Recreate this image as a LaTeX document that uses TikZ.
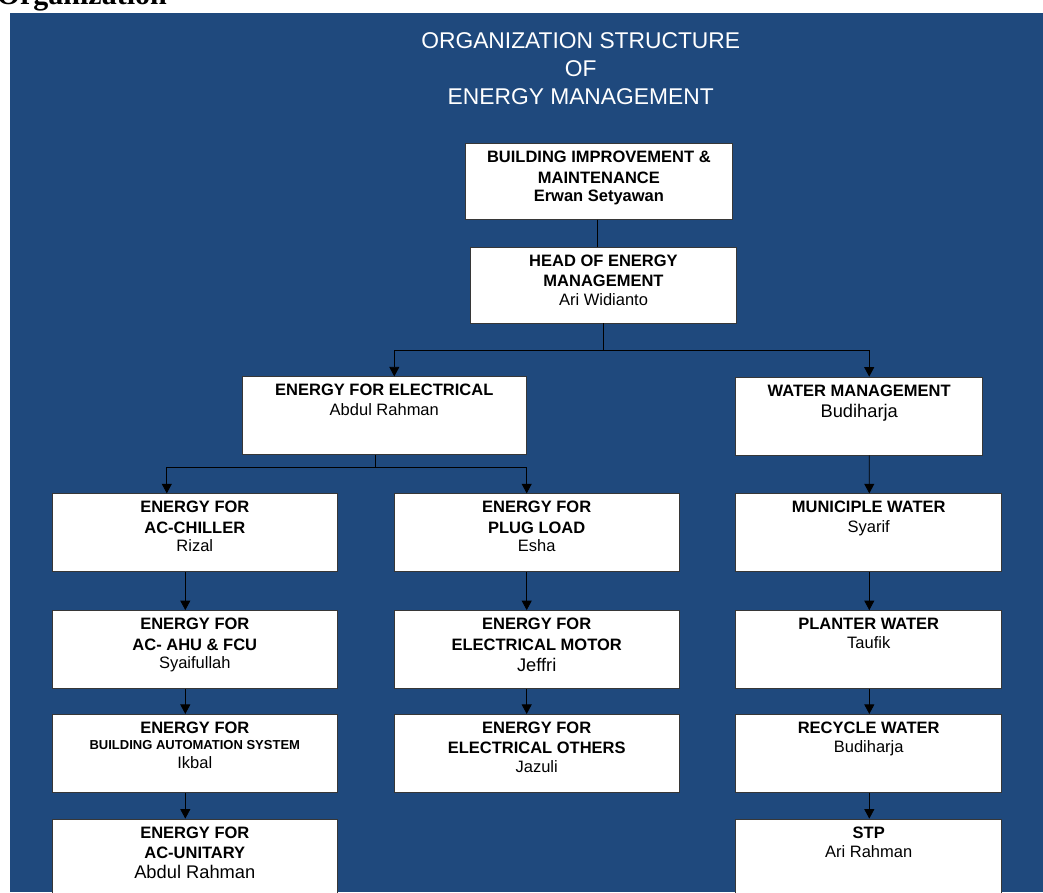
\documentclass[tikz,border=0pt]{standalone}
\usepackage{fontspec}
\setmainfont{Liberation Sans}
\newfontfamily\serifhead{Liberation Serif}
\usetikzlibrary{arrows.meta}
\definecolor{orgblue}{RGB}{31,73,125}
\definecolor{boxline}{RGB}{55,55,55}
\def\bigname#1{{\fontsize{18.3}{21}\selectfont #1}}
\def\smallcaps#1{{\fontsize{13}{15}\selectfont\bfseries #1}}

\tikzset{
	orgbox/.style={draw=boxline, fill=white, line width=0.8pt, minimum width=#1, minimum height=78pt, inner sep=0pt},
	orglbl/.style={anchor=north, align=center, inner sep=0pt, yshift=-7.8pt, font=\fontsize{16.5}{20.5}\selectfont},
	feed/.style={draw=black, line width=0.8pt, -{Triangle[width=10pt,length=9.5pt]}},
	link/.style={draw=black, line width=0.8pt},
}

\begin{document}
\begin{tikzpicture}[x=1pt, y=-1pt]
	%%%%% START %%%%%
	\useasboundingbox (0, 0) rectangle (1043, 892);
	\fill[orgblue] (10, 13) rectangle (1043, 892);
	
	\node[anchor=base east, inner sep=0pt, font=\serifhead\bfseries\fontsize{30}{36}\selectfont] (chapter) at (167, 4.7) {Organization};
	
	\node[anchor=north, align=center, inner sep=0pt, text=white, font=\fontsize{22.8}{28}\selectfont] (title) at (580.7, 32.5)
		{ORGANIZATION STRUCTURE\\OF\\ENERGY MANAGEMENT};
	
	%% top of the tree
	\node[orgbox=266.3pt, minimum height=76pt, label={[orglbl]north:{\bfseries BUILDING IMPROVEMENT \&\\[0.2pt] \bfseries MAINTENANCE\\[-1.8pt] \bfseries Erwan Setyawan}}] (bim) at (598.9, 181.3) {};
	\node[orgbox=265.6pt, minimum height=76pt, label={[orglbl]north:{\bfseries HEAD OF ENERGY\\ \bfseries MANAGEMENT\\[-1.5pt] Ari Widianto}}] (head) at (603.5, 285) {};
	
	\node[orgbox=284.7pt, label={[orglbl]north:{\bfseries ENERGY FOR ELECTRICAL\\[-1pt] Abdul Rahman}}] (elec) at (384.3, 415.8) {};
	\node[orgbox=247pt, label={[orglbl]north:{\bfseries WATER MANAGEMENT\\[0.5pt] \bigname{Budiharja}}}] (water) at (859.2, 416) {};
	
	%% electrical, left column
	\node[orgbox=284.3pt, label={[orglbl]north:{\bfseries ENERGY FOR\\ \bfseries AC-CHILLER\\[-2pt] Rizal}}] (chiller) at (194.8, 532.7) {};
	\node[orgbox=284.3pt, label={[orglbl]north:{\bfseries ENERGY FOR\\ \bfseries AC- AHU \& FCU\\[-2pt] Syaifullah}}] (ahu) at (194.8, 649.5) {};
	\node[orgbox=284.3pt, label={[orglbl]north:{\bfseries ENERGY FOR\\[-4pt] \smallcaps{BUILDING AUTOMATION SYSTEM}\\[-2pt] Ikbal}}] (bas) at (194.8, 753.3) {};
	\node[orgbox=284.3pt, label={[orglbl]north:{\bfseries ENERGY FOR\\ \bfseries AC-UNITARY\\[-1pt] \bigname{Abdul Rahman}}}] (unitary) at (194.8, 858) {};
	
	%% electrical, middle column
	\node[orgbox=284.7pt, label={[orglbl]north:{\bfseries ENERGY FOR\\ \bfseries PLUG LOAD\\[-2pt] Esha}}] (plug) at (536.7, 532.7) {};
	\node[orgbox=284.7pt, label={[orglbl]north:{\bfseries ENERGY FOR\\ \bfseries ELECTRICAL MOTOR\\[0.5pt] \bigname{Jeffri}}}] (motor) at (536.7, 649.5) {};
	\node[orgbox=284.7pt, label={[orglbl]north:{\bfseries ENERGY FOR\\ \bfseries ELECTRICAL OTHERS\\[-2pt] Jazuli}}] (others) at (536.7, 753.3) {};
	
	%% water column
	\node[orgbox=266pt, label={[orglbl]north:{\bfseries MUNICIPLE WATER\\[-1pt] Syarif}}] (municiple) at (868.7, 532.7) {};
	\node[orgbox=266pt, label={[orglbl]north:{\bfseries PLANTER WATER\\[-1.5pt] Taufik}}] (planter) at (868.7, 649.5) {};
	\node[orgbox=266pt, label={[orglbl]north:{\bfseries RECYCLE WATER\\[-1pt] Budiharja}}] (recycle) at (868.7, 753.3) {};
	\node[orgbox=266pt, label={[orglbl]north:{\bfseries STP\\[-1pt] Ari Rahman}}] (stp) at (868.7, 858) {};
	
	%% connectors
	\draw[link] ([xshift=-1.6pt]bim.south) -- ([xshift=-1.6pt]bim.south |- head.north);
	
	\coordinate (headbus) at (603.5, 350.3);
	\draw[link] (head.south) -- (headbus);
	\draw[feed] (headbus) -| ([xshift=10pt]elec.north);
	\draw[feed] (headbus) -| ([xshift=10pt]water.north);
	
	\coordinate (elecbus) at (375.3, 467.3);
	\draw[link] ([xshift=-9pt]elec.south) -- (elecbus);
	\draw[feed] (elecbus) -| ([xshift=-28pt]chiller.north);
	\draw[feed] (elecbus) -| ([xshift=-10pt]plug.north);
	
	\draw[feed] ([xshift=-9.5pt]chiller.south) -- ([xshift=-9.5pt]ahu.north);
	\draw[feed] ([xshift=-9.5pt]ahu.south) -- ([xshift=-9.5pt]bas.north);
	\draw[feed] ([xshift=-9.5pt]bas.south) -- ([xshift=-9.5pt]unitary.north);
	
	\draw[feed] ([xshift=-10pt]plug.south) -- ([xshift=-10pt]motor.north);
	\draw[feed] ([xshift=-10pt]motor.south) -- ([xshift=-10pt]others.north);
	
	\draw[feed] ([xshift=10pt]water.south) -- ([xshift=0.6pt]municiple.north);
	\draw[feed] ([xshift=0.6pt]municiple.south) -- ([xshift=0.6pt]planter.north);
	\draw[feed] ([xshift=0.6pt]planter.south) -- ([xshift=0.6pt]recycle.north);
	\draw[feed] ([xshift=0.6pt]recycle.south) -- ([xshift=0.6pt]stp.north);
	%%%%% END %%%%%
\end{tikzpicture}
\end{document}
